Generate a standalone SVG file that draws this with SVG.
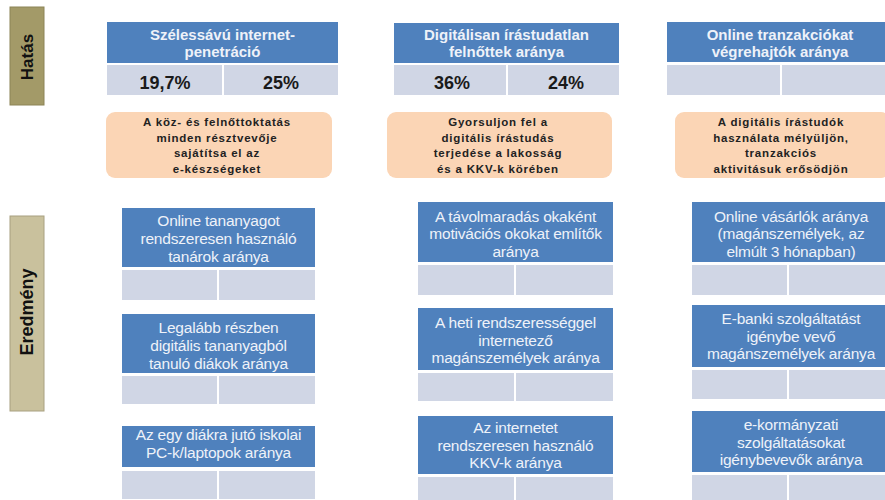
<svg xmlns="http://www.w3.org/2000/svg" width="885" height="500" viewBox="0 0 885 500">
<style>
.hdr{fill:#4f81bd}
.cell{fill:#d0d6e5}
.org{fill:#fbd5b5}
.ht{font-family:"Liberation Sans",Arial,sans-serif;font-size:15px;font-weight:bold;fill:#eef2f9;text-anchor:middle}
.mt{font-family:"Liberation Sans",Arial,sans-serif;font-size:15.5px;fill:#eef2f9;text-anchor:middle;letter-spacing:-0.2px}
.val{font-family:"Liberation Sans",Arial,sans-serif;font-size:18px;font-weight:bold;fill:#1a1a1a;text-anchor:middle}
.ot{font-family:"Liberation Sans",Arial,sans-serif;font-size:11.5px;font-weight:bold;fill:#222;text-anchor:middle;letter-spacing:0.8px}
.lab{font-family:"Liberation Sans",Arial,sans-serif;font-weight:bold;fill:#111;text-anchor:middle}
</style>
<rect width="885" height="500" fill="#fff"/>

<g id="label-hatas">
<rect x="10" y="7" width="34" height="98" fill="#a39a68" stroke="#8c8456" stroke-width="1"/>
<text class="lab" font-size="17" transform="translate(33,57) rotate(-90)">Hatás</text>
</g>
<g id="label-eredmeny">
<rect x="10" y="216" width="34" height="195" fill="#c9c19d" stroke="#a8a080" stroke-width="1"/>
<text class="lab" font-size="18" transform="translate(33,312) rotate(-90)">Eredmény</text>
</g>

<g id="hatas-1">
<rect class="hdr" x="107" y="22" width="231" height="41"/>
<rect class="cell" x="107" y="65" width="115" height="30"/>
<rect class="cell" x="224" y="65" width="114" height="30"/>
<text class="ht" x="222.5" y="40">Szélessávú internet-</text>
<text class="ht" x="222.5" y="57">penetráció</text>
<text class="val" x="165" y="89">19,7%</text>
<text class="val" x="281" y="89">25%</text>
</g>
<g id="hatas-2">
<rect class="hdr" x="394" y="23" width="225" height="40"/>
<rect class="cell" x="394" y="65" width="112" height="30"/>
<rect class="cell" x="508" y="65" width="111" height="30"/>
<text class="ht" x="506.5" y="40">Digitálisan írástudatlan</text>
<text class="ht" x="506.5" y="57">felnőttek  aránya</text>
<text class="val" x="452" y="89">36%</text>
<text class="val" x="566" y="89">24%</text>
</g>
<g id="hatas-3">
<rect class="hdr" x="667" y="22" width="225" height="40"/>
<rect class="cell" x="667" y="65" width="113" height="30"/>
<rect class="cell" x="782" y="65" width="110" height="30"/>
<text class="ht" x="780" y="40">Online tranzakciókat</text>
<text class="ht" x="780" y="57">végrehajtók aránya</text>
</g>

<g id="cel-1">
<rect class="org" x="106" y="112" width="226" height="66" rx="9"/>
<text class="ot" x="217" y="126">A köz- és felnőttoktatás</text>
<text class="ot" x="217" y="141.5">minden résztvevője</text>
<text class="ot" x="217" y="157">sajátítsa el az</text>
<text class="ot" x="217" y="172.5">e-készségeket</text>
</g>
<g id="cel-2">
<rect class="org" x="387" y="112" width="225" height="66" rx="9"/>
<text class="ot" x="498" y="126">Gyorsuljon fel a</text>
<text class="ot" x="498" y="141.5">digitális írástudás</text>
<text class="ot" x="498" y="157">terjedése a lakosság</text>
<text class="ot" x="498" y="172.5">és  a KKV-k körében</text>
</g>
<g id="cel-3">
<rect class="org" x="675" y="112" width="215" height="66" rx="9"/>
<text class="ot" x="781" y="126">A digitális írástudók</text>
<text class="ot" x="781" y="141.5">használata mélyüljön,</text>
<text class="ot" x="781" y="157">tranzakciós</text>
<text class="ot" x="781" y="172.5">aktivitásuk  erősödjön</text>
</g>

<g id="eredmeny-1-1">
<rect class="hdr" x="122" y="208" width="193" height="59"/>
<rect class="cell" x="122" y="270" width="95" height="30"/>
<rect class="cell" x="219" y="270" width="96" height="30"/>
<text class="mt" x="218.5" y="226">Online tananyagot</text>
<text class="mt" x="218.5" y="244">rendszeresen használó</text>
<text class="mt" x="218.5" y="261.5">tanárok aránya</text>
</g>
<g id="eredmeny-1-2">
<rect class="hdr" x="122" y="314" width="193" height="59"/>
<rect class="cell" x="122" y="376" width="95" height="28"/>
<rect class="cell" x="219" y="376" width="96" height="28"/>
<text class="mt" x="218.5" y="333">Legalább részben</text>
<text class="mt" x="218.5" y="351">digitális tananyagból</text>
<text class="mt" x="218.5" y="368.5">tanuló diákok aránya</text>
</g>
<g id="eredmeny-1-3">
<rect class="hdr" x="122" y="426" width="193" height="41"/>
<rect class="cell" x="122" y="471" width="95" height="28"/>
<rect class="cell" x="219" y="471" width="96" height="28"/>
<text class="mt" x="218.5" y="440">Az egy diákra  jutó iskolai</text>
<text class="mt" x="218.5" y="458">PC-k/laptopok aránya</text>
</g>

<g id="eredmeny-2-1">
<rect class="hdr" x="418" y="202" width="195" height="60"/>
<rect class="cell" x="418" y="265" width="96" height="30"/>
<rect class="cell" x="516" y="265" width="97" height="30"/>
<text class="mt" x="515.5" y="221.5">A távolmaradás okaként</text>
<text class="mt" x="515.5" y="239">motivációs okokat említők</text>
<text class="mt" x="515.5" y="256.5">aránya</text>
</g>
<g id="eredmeny-2-2">
<rect class="hdr" x="418" y="308" width="195" height="62"/>
<rect class="cell" x="418" y="373" width="96" height="28"/>
<rect class="cell" x="516" y="373" width="97" height="28"/>
<text class="mt" x="515.5" y="328">A heti rendszerességgel</text>
<text class="mt" x="515.5" y="345.5">internetező</text>
<text class="mt" x="515.5" y="363">magánszemélyek aránya</text>
</g>
<g id="eredmeny-2-3">
<rect class="hdr" x="418" y="416" width="195" height="58"/>
<rect class="cell" x="418" y="477" width="96" height="23"/>
<rect class="cell" x="516" y="477" width="97" height="23"/>
<text class="mt" x="515.5" y="433">Az internetet</text>
<text class="mt" x="515.5" y="450.5">rendszeresen használó</text>
<text class="mt" x="515.5" y="468">KKV-k aránya</text>
</g>

<g id="eredmeny-3-1">
<rect class="hdr" x="692" y="202" width="198" height="60"/>
<rect class="cell" x="692" y="265" width="95" height="30"/>
<rect class="cell" x="789" y="265" width="101" height="30"/>
<text class="mt" x="791" y="221.5">Online vásárlók aránya</text>
<text class="mt" x="791" y="239">(magánszemélyek, az</text>
<text class="mt" x="791" y="256.5">elmúlt 3 hónapban)</text>
</g>
<g id="eredmeny-3-2">
<rect class="hdr" x="692" y="305" width="198" height="62"/>
<rect class="cell" x="692" y="370" width="95" height="29"/>
<rect class="cell" x="789" y="370" width="101" height="29"/>
<text class="mt" x="791" y="324">E-banki szolgáltatást</text>
<text class="mt" x="791" y="341.5">igénybe vevő</text>
<text class="mt" x="791" y="359">magánszemélyek aránya</text>
</g>
<g id="eredmeny-3-3">
<rect class="hdr" x="692" y="411" width="198" height="61"/>
<rect class="cell" x="692" y="475" width="95" height="25"/>
<rect class="cell" x="789" y="475" width="101" height="25"/>
<text class="mt" x="791" y="430">e-kormányzati</text>
<text class="mt" x="791" y="447.5">szolgáltatásokat</text>
<text class="mt" x="791" y="465">igénybevevők aránya</text>
</g>
</svg>
